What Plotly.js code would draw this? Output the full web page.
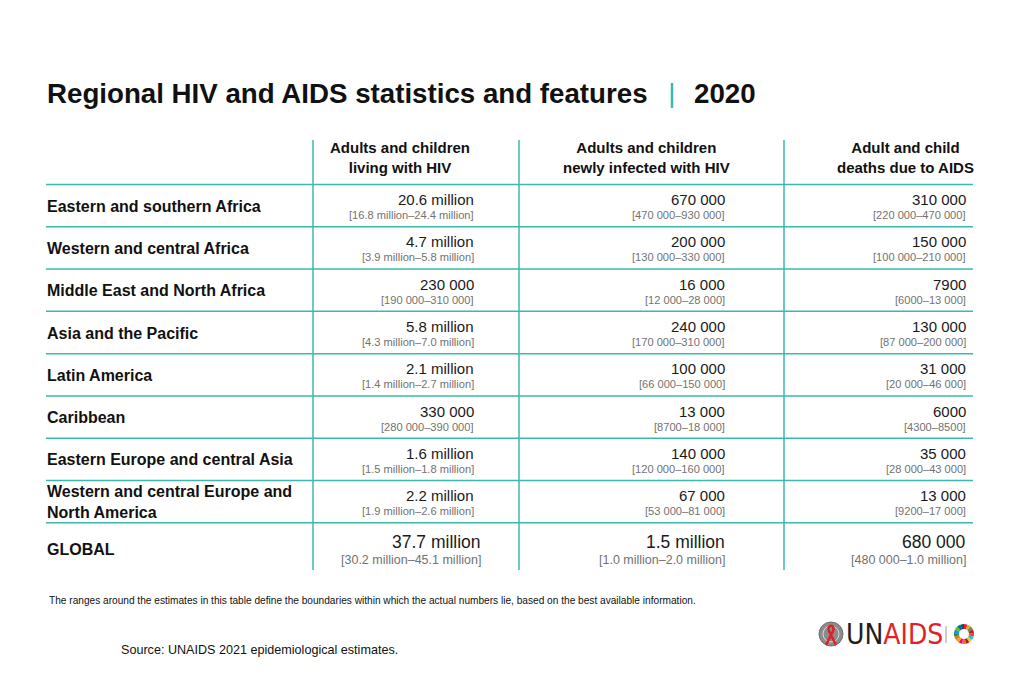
<!DOCTYPE html>
<html><head><meta charset="utf-8">
<script src="https://cdn.plot.ly/plotly-3.0.1.min.js"></script>
<style>html,body{margin:0;padding:0;background:#fff;} #chart{width:1024px;height:683px;}</style>
</head><body><div id="chart"></div>
<script>
// ---------- data ----------
const titleText = 'Regional HIV and AIDS statistics and features';
const yearText = '2020';
const columnHeaders = ['Adults and children<br>living with HIV', 'Adults and children<br>newly infected with HIV', 'Adult and child<br>deaths due to AIDS'];
const regions = ['Eastern and southern Africa', 'Western and central Africa', 'Middle East and North Africa', 'Asia and the Pacific', 'Latin America', 'Caribbean', 'Eastern Europe and central Asia', 'Western and central Europe and<br>North America', 'GLOBAL'];
const livingWithHIV = ['20.6 million', '4.7 million', '230 000', '5.8 million', '2.1 million', '330 000', '1.6 million', '2.2 million', '37.7 million'];
const livingRange = ['[16.8 million–24.4 million]', '[3.9 million–5.8 million]', '[190 000–310 000]', '[4.3 million–7.0 million]', '[1.4 million–2.7 million]', '[280 000–390 000]', '[1.5 million–1.8 million]', '[1.9 million–2.6 million]', '[30.2 million–45.1 million]'];
const newInfections = ['670 000', '200 000', '16 000', '240 000', '100 000', '13 000', '140 000', '67 000', '1.5 million'];
const newRange = ['[470 000–930 000]', '[130 000–330 000]', '[12 000–28 000]', '[170 000–310 000]', '[66 000–150 000]', '[8700–18 000]', '[120 000–160 000]', '[53 000–81 000]', '[1.0 million–2.0 million]'];
const aidsDeaths = ['310 000', '150 000', '7900', '130 000', '31 000', '6000', '35 000', '13 000', '680 000'];
const deathsRange = ['[220 000–470 000]', '[100 000–210 000]', '[6000–13 000]', '[87 000–200 000]', '[20 000–46 000]', '[4300–8500]', '[28 000–43 000]', '[9200–17 000]', '[480 000–1.0 million]'];
const footnote = 'The ranges around the estimates in this table define the boundaries within which the actual numbers lie, based on the best available information.';
const sourceText = 'Source: UNAIDS 2021 epidemiological estimates.';
const sdgColors = ['#E5243B','#DDA63A','#4C9F38','#C5192D','#FF3A21','#26BDE2','#FCC30B','#A21942','#FD6925','#DD1367','#FD9D24','#BF8B2E','#3F7E44','#0A97D9','#56C02B','#00689D','#19486A'];
const sdgSegments = [1,1,1,1,1,1,1,1,1,1,1,1,1,1,1,1,1];

// ---------- layout helpers ----------
const W = 1024, H = 683;
const FONT = 'Liberation Sans, Arial, sans-serif';
const TEAL = '#3bb8b0';
const ROW_PX = 42.3, ROW0_PX = 205.6;
const yTop = -ROW0_PX / ROW_PX;
const yBottom = yTop + H / ROW_PX;
const P = p => 1 - p / H;          // pixel y -> paper y
const R = px => px / ROW_PX;        // pixel offset -> row units

const columns = [
  {values: livingWithHIV, ranges: livingRange, right: 475, globalRight: 482, header: 400},
  {values: newInfections, ranges: newRange, right: 725.5, globalRight: 725.5, header: 646},
  {values: aidsDeaths, ranges: deathsRange, right: 967, globalRight: 967, header: 905}
];
const colLines = [313, 519, 784];
const nRows = regions.length;
const gIdx = nRows - 1;

const annotations = [];
const shapes = [];

// title
annotations.push({xref:'x', yref:'paper', x:46, y:P(94), xanchor:'left', yanchor:'middle', showarrow:false, borderpad:0,
  text:titleText, font:{family:FONT, size:27.7, weight:700, color:'#111'}});
annotations.push({xref:'x', yref:'paper', x:693, y:P(94), xanchor:'left', yanchor:'middle', showarrow:false, borderpad:0,
  text:yearText, font:{family:FONT, size:27.7, weight:700, color:'#111'}});
shapes.push({type:'line', xref:'x', yref:'paper', x0:672, x1:672, y0:P(83), y1:P(108), line:{color:TEAL, width:2.5}});

// column headers
columns.forEach((c, j) => {
  annotations.push({xref:'x', yref:'y', x:c.header, y:yTop + R(157), xanchor:'center', yanchor:'middle', showarrow:false, borderpad:0,
    text:columnHeaders[j], align:'center', font:{family:FONT, size:15, weight:700, color:'#111'}});
});

// grid lines
for (let i = 0; i < nRows; i++) {
  shapes.push({type:'line', xref:'x', yref:'y', x0:46, x1:973, y0:i - 0.5, y1:i - 0.5, line:{color:TEAL, width:1.5}});
}
colLines.forEach(x => {
  shapes.push({type:'line', xref:'x', yref:'y', x0:x, x1:x, y0:yTop + R(140), y1:yTop + R(570), line:{color:TEAL, width:1.5}});
});

// rows
regions.forEach((name, i) => {
  const g = i === gIdx;
  annotations.push({xref:'x', yref:'y', x:46, y:i + (g ? R(5) : R(0.5)), xanchor:'left', yanchor:'middle', showarrow:false, borderpad:0,
    text:name, align:'left', font:{family:FONT, size:16, weight:700, color:'#111'}});
  columns.forEach(c => {
    const xr = g ? c.globalRight : c.right;
    annotations.push({xref:'x', yref:'y', x:xr, y:i + (g ? R(-2.5) : R(-6)), xanchor:'right', yanchor:'middle', showarrow:false, borderpad:0,
      text:c.values[i], font:{family:FONT, size:g ? 17.5 : 15, color:'#1a1a1a'}});
    annotations.push({xref:'x', yref:'y', x:xr, y:i + (g ? R(16) : R(9.5)), xanchor:'right', yanchor:'middle', showarrow:false, borderpad:0,
      text:c.ranges[i], font:{family:FONT, size:g ? 12.5 : 11.1, color:'#727272'}});
  });
});

// footnote & source
annotations.push({xref:'x', yref:'paper', x:48, y:P(600), xanchor:'left', yanchor:'middle', showarrow:false, borderpad:0,
  text:footnote, font:{family:FONT, size:10.15, color:'#111'}});
annotations.push({xref:'x', yref:'paper', x:120, y:P(650), xanchor:'left', yanchor:'middle', showarrow:false, borderpad:0,
  text:sourceText, font:{family:FONT, size:12.6, color:'#111'}});

// logo
shapes.push({type:'circle', xref:'x', yref:'paper', x0:819, x1:843, y0:P(646), y1:P(622), fillcolor:'#8c8c8c', line:{color:'#6f6f6f', width:1}});
shapes.push({type:'circle', xref:'x', yref:'paper', x0:823, x1:839, y0:P(642), y1:P(626), fillcolor:'rgba(0,0,0,0)', line:{color:'#d8d8d8', width:1}});
const rp = (x, y) => x + ',' + P(y);
shapes.push({type:'path', xref:'x', yref:'paper',
  path:'M' + rp(826,645) + ' L' + rp(833,631) + ' C' + rp(836,624) + ' ' + rp(826,624) + ' ' + rp(829,631) + ' L' + rp(836,645),
  line:{color:'#e31f26', width:2.5}});
annotations.push({xref:'x', yref:'paper', x:845, y:P(634.5), xanchor:'left', yanchor:'middle', showarrow:false, borderpad:0,
  text:'<span style="color:#1e1e1e">UN</span><span style="color:#e31f26">AIDS</span>',
  font:{family:'DejaVu Sans Condensed, Liberation Sans Narrow, sans-serif', size:28, color:'#e31f26'}});
shapes.push({type:'line', xref:'x', yref:'paper', x0:946, x1:946, y0:P(626), y1:P(643), line:{color:'#9a9a9a', width:1}});

const traces = [{
  type:'pie', values:sdgSegments, marker:{colors:sdgColors, line:{width:0}}, sort:false, direction:'clockwise',
  hole:0.5, textinfo:'none', hoverinfo:'skip', showlegend:false,
  domain:{x:[954/W, 974/W], y:[P(644), P(624)]}
}];

const layout = {
  width:W, height:H, margin:{l:0, r:0, t:0, b:0},
  paper_bgcolor:'#ffffff', plot_bgcolor:'#ffffff', showlegend:false,
  xaxis:{range:[0, W], visible:false, fixedrange:true},
  yaxis:{range:[yBottom, yTop], visible:false, fixedrange:true},
  annotations:annotations, shapes:shapes
};
Plotly.newPlot('chart', traces, layout, {displayModeBar:false, staticPlot:true});
</script>
</body></html>
